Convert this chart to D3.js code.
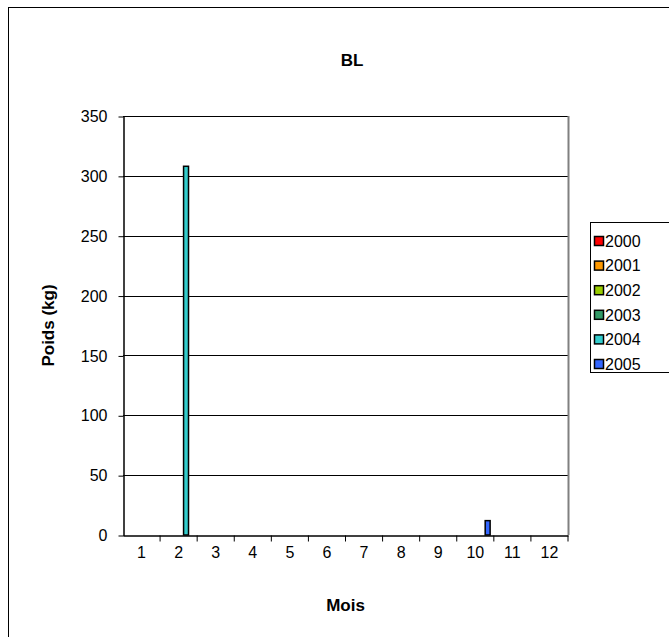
<!DOCTYPE html>
<html>
<head>
<meta charset="utf-8">
<script src="https://cdn.jsdelivr.net/npm/d3@7"></script>
<style>
  body { margin: 0; background: #fff; }
  svg { font-family: "Liberation Sans", Arial, sans-serif; }
</style>
</head>
<body>
<div class="bl_chart"></div>
<script>
const months = ['1', '2', '3', '4', '5', '6', '7', '8', '9', '10', '11', '12'];
const years = ['2000', '2001', '2002', '2003', '2004', '2005'];
const yearColors = ['#FF0000', '#FF9900', '#99CC00', '#339966', '#33CCCC', '#3366FF'];
// poids (kg) par mois, une liste par année
const poids2000 = [0, 0, 0, 0, 0, 0, 0, 0, 0, 0, 0, 0];
const poids2001 = [0, 0, 0, 0, 0, 0, 0, 0, 0, 0, 0, 0];
const poids2002 = [0, 0, 0, 0, 0, 0, 0, 0, 0, 0, 0, 0];
const poids2003 = [0, 0, 0, 0, 0, 0, 0, 0, 0, 0, 0, 0];
const poids2004 = [0, 308, 0, 0, 0, 0, 0, 0, 0, 0, 0, 0];
const poids2005 = [0, 0, 0, 0, 0, 0, 0, 0, 0, 12, 0, 0];
const yTicks = [0, 50, 100, 150, 200, 250, 300, 350];

const series = [poids2000, poids2001, poids2002, poids2003, poids2004, poids2005];
const bars = [];
series.forEach((vals, i) => {
    vals.forEach((v, m) => {
        if (v > 0) bars.push({ year: years[i], month: months[m], value: v });
    });
});

const width = 669;
const height = 637;
const plot = { left: 123, right: 568, top: 116, bottom: 535 };

const svg = d3.select('.bl_chart')
    .append('svg')
    .attr('width', width)
    .attr('height', height);

// chart area border (continues past the right and bottom edges)
svg.append('rect')
    .attr('x', 8.5)
    .attr('y', 7.5)
    .attr('width', 800)
    .attr('height', 800)
    .attr('fill', 'none')
    .attr('stroke', '#000')
    .attr('stroke-width', 1);

const x0 = d3.scaleBand()
    .domain(months)
    .range([plot.left, plot.right])
    .padding(0);

const x1 = d3.scaleBand()
    .domain(years)
    .range([0, x0.bandwidth()])
    .paddingInner(0)
    .paddingOuter(0.75);

const yScale = d3.scaleLinear()
    .domain([0, 350])
    .range([plot.bottom, plot.top]);

const color = d3.scaleOrdinal()
    .domain(years)
    .range(yearColors);

// gridlines
svg.append('g')
    .selectAll('line')
    .data(yTicks.filter(d => d > 0))
    .enter()
    .append('line')
    .attr('x1', plot.left)
    .attr('x2', plot.right)
    .attr('y1', d => Math.round(yScale(d)) + 0.5)
    .attr('y2', d => Math.round(yScale(d)) + 0.5)
    .attr('stroke', '#000')
    .attr('stroke-width', 1);

// right edge of plot area
svg.append('line')
    .attr('x1', plot.right + 0.5)
    .attr('x2', plot.right + 0.5)
    .attr('y1', plot.top)
    .attr('y2', plot.bottom)
    .attr('stroke', '#808080')
    .attr('stroke-width', 2);

// bars
svg.append('g')
    .selectAll('rect')
    .data(bars)
    .enter()
    .append('rect')
    .attr('x', d => x0(d.month) + x1(d.year))
    .attr('y', d => yScale(d.value))
    .attr('width', x1.bandwidth())
    .attr('height', d => yScale(0) - yScale(d.value))
    .attr('fill', d => color(d.year))
    .attr('stroke', '#000')
    .attr('stroke-width', 1.5);

// y axis
const yAxis = svg.append('g')
    .attr('transform', `translate(${plot.left + 0.5}, 0.5)`)
    .call(d3.axisLeft(yScale).tickValues(yTicks).tickSize(5).tickPadding(11).tickSizeOuter(0));
yAxis.selectAll('text').attr('font-size', 16).attr('fill', '#000').attr('font-family', null);
yAxis.select('.domain').attr('stroke', '#000').attr('stroke-width', 1.5);

// x axis: labels at category centres, ticks at category boundaries
const xAxis = svg.append('g')
    .attr('transform', `translate(0, ${plot.bottom + 0.5})`)
    .call(d3.axisBottom(x0).tickSize(0).tickPadding(11).tickSizeOuter(0));
xAxis.selectAll('text').attr('font-size', 16).attr('fill', '#000').attr('font-family', null);
xAxis.select('.domain').attr('stroke', '#000').attr('stroke-width', 1.5);

xAxis.selectAll('.bound')
    .data(months.slice(1).concat(['end']))
    .enter()
    .append('line')
    .attr('class', 'bound')
    .attr('x1', d => d === 'end' ? plot.right : x0(d))
    .attr('x2', d => d === 'end' ? plot.right : x0(d))
    .attr('y1', 0)
    .attr('y2', 6)
    .attr('stroke', '#000');

// titles
svg.append('text')
    .attr('x', 352)
    .attr('y', 66)
    .attr('text-anchor', 'middle')
    .attr('font-size', 17)
    .attr('font-weight', 'bold')
    .text('BL');

svg.append('text')
    .attr('x', (plot.left + plot.right) / 2)
    .attr('y', 611)
    .attr('text-anchor', 'middle')
    .attr('font-size', 17)
    .attr('font-weight', 'bold')
    .text('Mois');

svg.append('text')
    .attr('transform', 'rotate(-90)')
    .attr('x', -(plot.top + plot.bottom) / 2)
    .attr('y', 54)
    .attr('text-anchor', 'middle')
    .attr('font-size', 17)
    .attr('font-weight', 'bold')
    .text('Poids (kg)');

// legend
svg.append('rect')
    .attr('x', 590.5)
    .attr('y', 222.5)
    .attr('width', 200)
    .attr('height', 150)
    .attr('fill', '#fff')
    .attr('stroke', '#000');

const legend = svg.selectAll('.legend')
    .data(years)
    .enter()
    .append('g')
    .attr('class', 'legend')
    .attr('transform', (d, i) => `translate(594, ${241 + i * 24.6})`);

legend.append('rect')
    .attr('x', 0.5)
    .attr('y', -4.5)
    .attr('width', 9)
    .attr('height', 9)
    .attr('fill', d => color(d))
    .attr('stroke', '#000')
    .attr('stroke-width', 1.5);

legend.append('text')
    .attr('x', 11)
    .attr('y', 0)
    .attr('dy', '0.36em')
    .attr('font-size', 16)
    .text(d => d);
</script>
</body>
</html>
